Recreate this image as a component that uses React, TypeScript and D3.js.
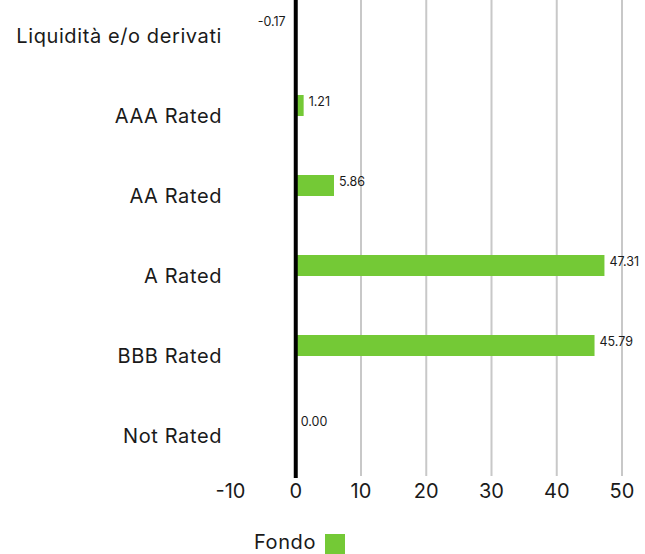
import React from "react";
import * as d3 from "d3";

const categories = ["Liquidità e/o derivati", "AAA Rated", "AA Rated", "A Rated", "BBB Rated", "Not Rated"];
const values = [-0.17, 1.21, 5.86, 47.31, 45.79, 0.0];
const tickValues = [-10, 0, 10, 20, 30, 40, 50];
const seriesName = "Fondo";

const W = 645;
const H = 554;
const FONT = "Inter, 'Open Sans', sans-serif";
const GREEN = "#74c936";

export default function App() {
  const x = d3.scaleLinear().domain([-10, 50]).range([230.5, 622]);
  const y = d3.scaleBand<string>().domain(categories).range([-4, 476]);
  const bw = y.bandwidth();
  const barH = 21;

  return (
    <svg width={W} height={H} style={{ position: "absolute", left: 0, top: 0 }} fontFamily={FONT}>
      {tickValues.filter((t) => t > 0).map((t) => (
        <line key={t} x1={x(t)} x2={x(t)} y1={0} y2={476} stroke="#c8c8c8" strokeWidth={2} />
      ))}
      {categories.map((c, i) => {
        const v = values[i];
        const cy = (y(c) as number) + bw / 2;
        const x0 = x(Math.min(0, v));
        const x1 = x(Math.max(0, v));
        return (
          <g key={c}>
            <rect x={x0} y={cy - barH} width={Math.max(0, x1 - x0)} height={barH} fill={GREEN} />
            <text x={222} y={cy} dy="0.35em" textAnchor="end" fontSize={20} letterSpacing={0.6} fill="#1a1a1a">{c}</text>
            <text
              x={v < 0 ? x(v) - 9 : x(v) + 5}
              y={cy - barH / 2 - 3.5}
              dy="0.35em"
              textAnchor={v < 0 ? "end" : "start"}
              fontSize={12.5}
              fill="#1a1a1a"
            >
              {v.toFixed(2)}
            </text>
          </g>
        );
      })}
      <line x1={x(0)} x2={x(0)} y1={0} y2={478} stroke="#000" strokeWidth={4} />
      {tickValues.map((t) => (
        <text key={t} x={x(t)} y={491} dy="0.35em" textAnchor="middle" fontSize={20} fill="#1a1a1a">
          {t}
        </text>
      ))}
      <text x={254} y={542} dy="0.35em" fontSize={20} letterSpacing={0.6} fill="#1a1a1a">{seriesName}</text>
      <rect x={325} y={534} width={20} height={20} fill={GREEN} />
    </svg>
  );
}
